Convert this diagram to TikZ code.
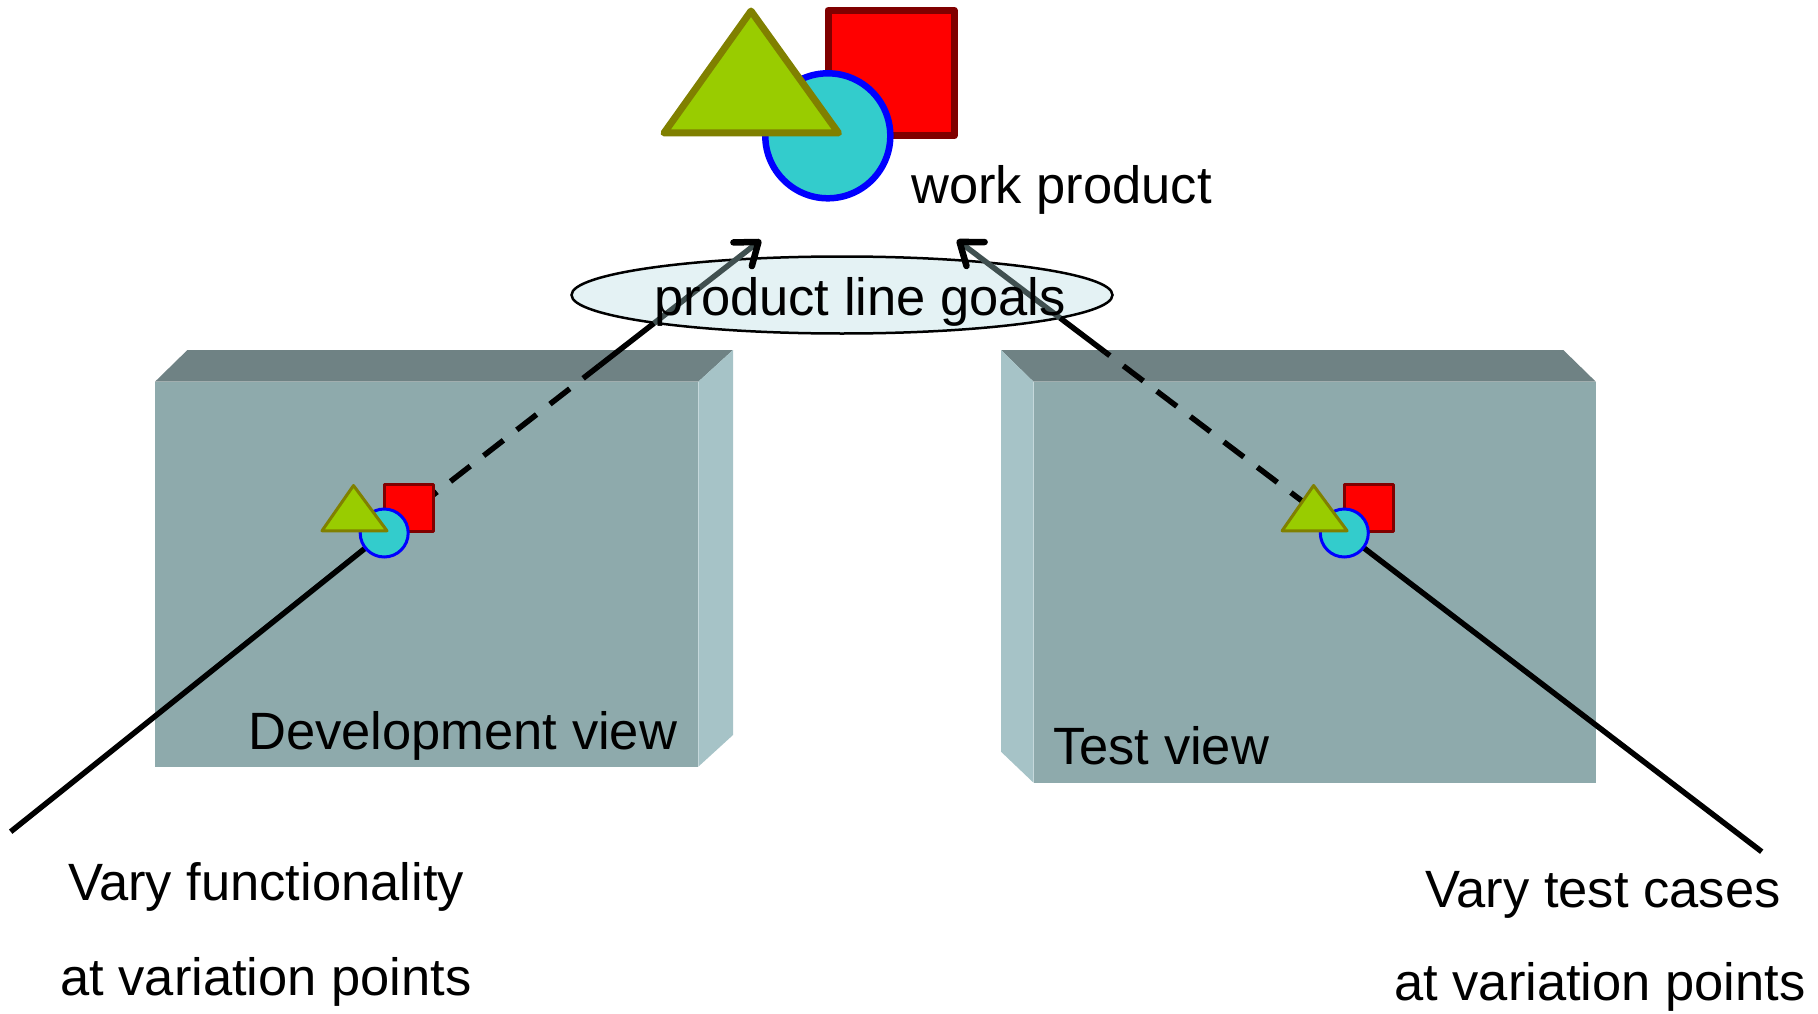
\documentclass[tikz,border=0pt]{standalone}
\usepackage{fontspec}
\setmainfont{Liberation Sans}
\usetikzlibrary{arrows.meta,shapes.geometric,calc}

% drawing layers: 3D boxes and goal ellipse at the back, connectors above them
\pgfdeclarelayer{back}
\pgfdeclarelayer{wires}
\pgfsetlayers{back,wires,main}

\definecolor{boxfront}{RGB}{142,170,172}
\definecolor{boxtop}{RGB}{111,130,132}
\definecolor{boxside}{RGB}{166,195,199}
\definecolor{trifill}{RGB}{153,204,0}
\definecolor{triline}{RGB}{128,128,0}
\definecolor{sqline}{RGB}{128,0,0}
\definecolor{circfill}{RGB}{51,204,204}
\definecolor{goalfill}{RGB}{228,242,244}
\definecolor{shaft}{RGB}{64,80,80}

\begin{document}
\begin{tikzpicture}[x=1pt,y=-1pt,
  lbl/.style={inner sep=0pt, font=\fontsize{52.5}{60}\selectfont},
  sqshape/.style={fill=red, draw=sqline, line join=round},
  trishape/.style={fill=trifill, draw=triline, line join=round},
  circshape/.style={circle, fill=circfill, draw=blue, inner sep=0pt},
  conn/.style={line width=5.5pt},
  dashconn/.style={conn, dash pattern=on 25pt off 17pt},
  shaftconn/.style={line width=5.5pt, draw=shaft,
    -{Straight Barb[length=20pt, width=30pt, color=black, line width=6.5pt,
      line cap=round, line join=round]}},
  varpoint/.pic={
    \path[sqshape, line width=3pt] (0.5,-48.8) rectangle (48.9,-1.2);
    \node[circshape, line width=3pt, minimum size=48pt] (-c) at (0,0) {};
    \path[trishape, line width=3pt] (-30.7,-47.5) -- (-62.2,-2.2) -- (2.8,-2.2) -- cycle;
  }]

\useasboundingbox (0,0) rectangle (1818,1014);

% ---- work product ----
\path[sqshape, line width=7pt] (828,10.3) rectangle (954,135.7);
\node[circshape, line width=6.5pt, minimum size=125pt] (wpc) at (827.8,135.8) {};
\path[trishape, line width=7pt] (751,11) -- (664,133) -- (838.5,133) -- cycle;
\node[lbl, anchor=base west] (wplabel) at (911,204) {work product};

\coordinate (tipL) at (761,240);
\coordinate (tipR) at (957,240);

% ---- views ----
\begin{pgfonlayer}{back}
  % development view box
  \fill[boxfront] (155,381.7) rectangle (698.3,766.7);
  \fill[boxtop] (155,381.7) -- (187.4,350) -- (733,350) -- (698.3,381.7) -- cycle;
  \fill[boxside] (698.3,381.7) -- (733,350) -- (733,735) -- (698.3,766.7) -- cycle;
  % test view box
  \fill[boxfront] (1033.5,381.7) rectangle (1595.8,782.7);
  \fill[boxtop] (1001,350) -- (1563.3,350) -- (1595.8,381.7) -- (1033.5,381.7) -- cycle;
  \fill[boxside] (1001,350) -- (1033.5,381.7) -- (1033.5,782.7) -- (1001,751.7) -- cycle;
  % goals ellipse
  \node[ellipse, fill=goalfill, draw=black, line width=2.5pt, minimum width=541pt,
        minimum height=77pt, inner sep=0pt] (goals) at (842,295) {};
\end{pgfonlayer}

\node[lbl, anchor=base west] (devlabel) at (248,749) {Development view};
\node[lbl, anchor=base west] (testlabel) at (1053,764) {Test view};

% variation point icons
\pic (dev) at (384.2,533) {varpoint};
\pic (test) at (1344.3,533) {varpoint};

\coordinate (devend) at (10.7,831.7);
\coordinate (testend) at (1761.7,851.7);

% ---- connectors ----
\begin{pgfonlayer}{wires}
  \draw[conn] (dev-c.center) -- (devend);
  \draw[dashconn] (dev-c.center) -- ($(dev-c.center)!0.57!(tipL)$);
  \draw[conn] ($(dev-c.center)!0.57!(tipL)$) -- ($(dev-c.center)!0.716!(tipL)$);
  \draw[shaftconn] ($(dev-c.center)!0.716!(tipL)$) -- (tipL);

  \draw[conn] (test-c.center) -- (testend);
  \draw[dashconn] (test-c.center) -- ($(test-c.center)!0.618!(tipR)$);
  \draw[conn] ($(test-c.center)!0.618!(tipR)$) -- ($(test-c.center)!0.734!(tipR)$);
  \draw[shaftconn] ($(test-c.center)!0.734!(tipR)$) -- (tipR);
\end{pgfonlayer}

\node[lbl, anchor=base west] (goalslabel) at (654.3,315) {product line goals};

% ---- captions ----
\node[lbl, anchor=base] (devcap1) at (266,900) {Vary functionality};
\node[lbl, anchor=base] (devcap2) at (266,995) {at variation points};
\node[lbl, anchor=base] (testcap1) at (1603,907) {Vary test cases};
\node[lbl, anchor=base] (testcap2) at (1600,1000) {at variation points};

\end{tikzpicture}
\end{document}
